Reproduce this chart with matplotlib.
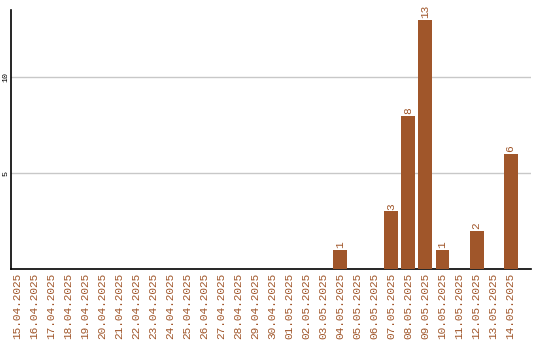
import matplotlib
matplotlib.use('Agg')
import matplotlib.pyplot as plt
import numpy as np

dates = ['15.04.2025', '16.04.2025', '17.04.2025', '18.04.2025', '19.04.2025',
         '20.04.2025', '21.04.2025', '22.04.2025', '23.04.2025', '24.04.2025',
         '25.04.2025', '26.04.2025', '27.04.2025', '28.04.2025', '29.04.2025',
         '30.04.2025', '01.05.2025', '02.05.2025', '03.05.2025', '04.05.2025',
         '05.05.2025', '06.05.2025', '07.05.2025', '08.05.2025', '09.05.2025',
         '10.05.2025', '11.05.2025', '12.05.2025', '13.05.2025', '14.05.2025']
counts = [0, 0, 0, 0, 0, 0, 0, 0, 0, 0,
          0, 0, 0, 0, 0, 0, 0, 0, 0, 1,
          0, 0, 3, 8, 13, 1, 0, 2, 0, 6]
y_ticks = [5, 10]

bar_color = '#A0562A'
font = 'Liberation Mono'

fig = plt.figure(figsize=(5.4, 3.4), dpi=100)
ax = fig.add_axes([11/540, 71/340, 520/540, 259/340])

x = np.arange(len(dates))
ax.bar(x, counts, width=0.82, color=bar_color, zorder=3)

for xi, c in zip(x, counts):
    if c > 0:
        ax.text(xi, c + 0.1, str(c), rotation=90, ha='center', va='bottom',
                color=bar_color, fontsize=8, family=font)

ax.set_xlim(-0.35, 30.2)
ax.set_ylim(0, 13.5)
ax.set_xticks(x)
ax.set_xticklabels(dates, rotation=90, color=bar_color, fontsize=8,
                   family=font)
ax.set_yticks(y_ticks)
ax.set_yticklabels([str(v) for v in y_ticks], rotation=90, fontsize=6,
                   family=font, va='center')
ax.tick_params(axis='x', length=0, pad=3)
ax.tick_params(axis='y', length=0, pad=1)
ax.yaxis.grid(True, color='#c8c8c8', linewidth=1, zorder=0)

for s in ['top', 'right']:
    ax.spines[s].set_visible(False)
ax.spines['left'].set_linewidth(1.2)
ax.spines['bottom'].set_linewidth(1.2)

fig.savefig('out.png', dpi=100)
